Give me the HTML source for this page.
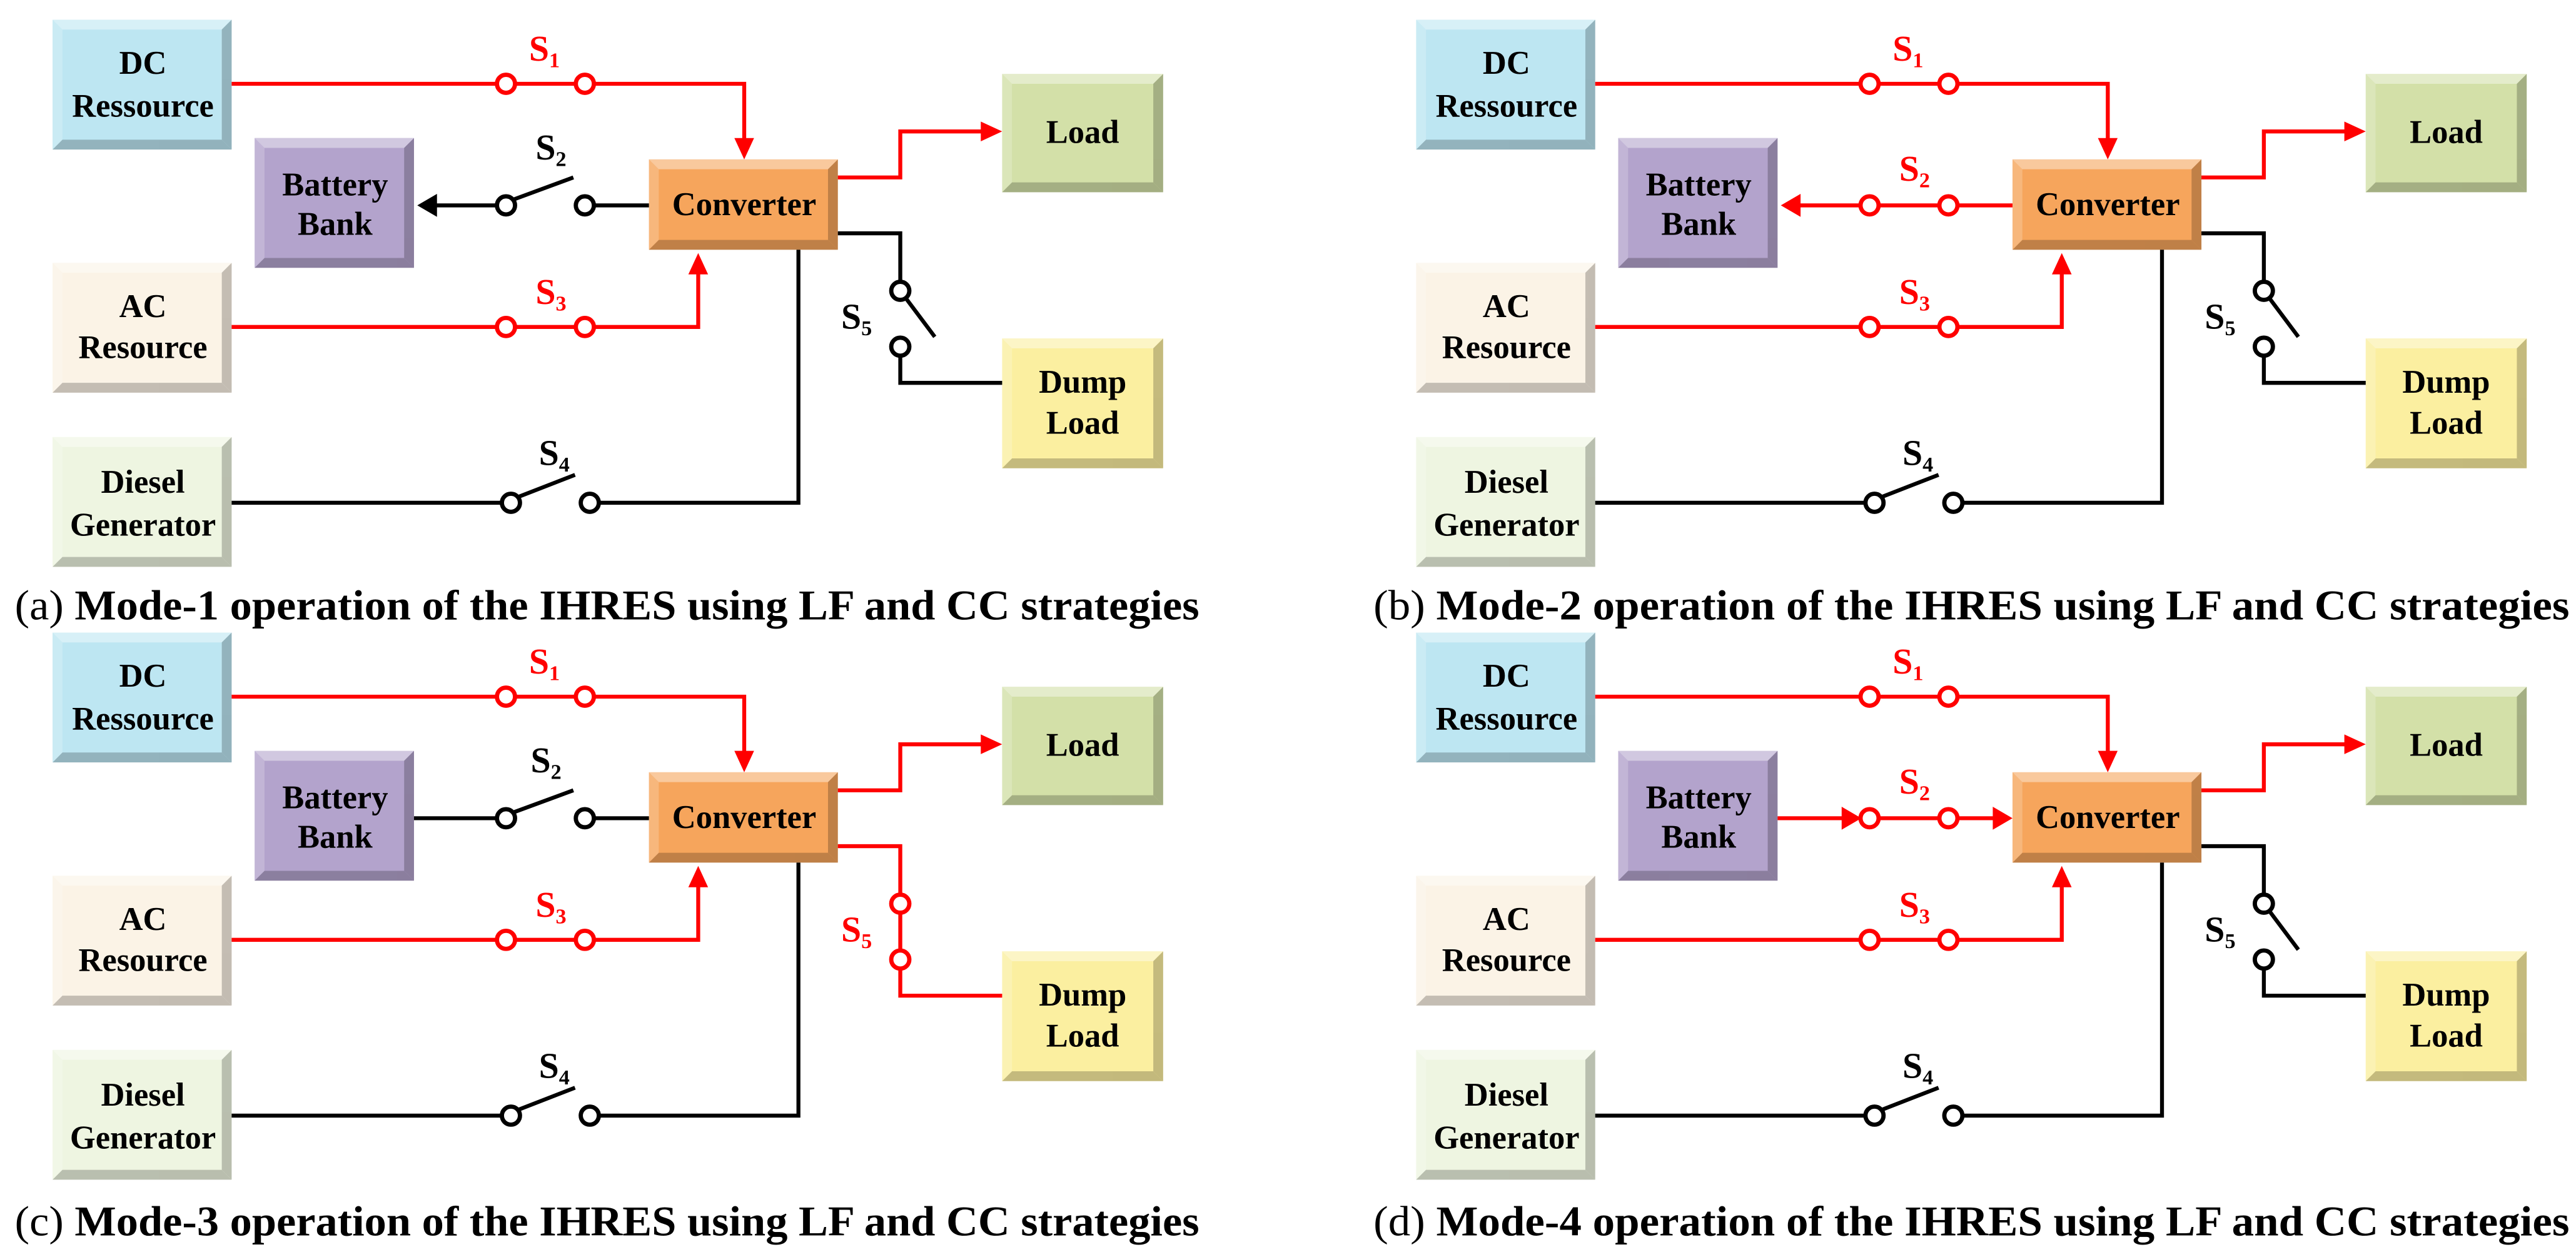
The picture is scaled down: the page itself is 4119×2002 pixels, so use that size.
<!DOCTYPE html>
<html><head><meta charset="utf-8"><style>html,body{margin:0;padding:0;background:#fff}svg{display:block}</style></head>
<body>
<svg width="4119" height="2002" viewBox="0 0 1568 762" preserveAspectRatio="none" xmlns="http://www.w3.org/2000/svg" font-family="'Liberation Serif',serif" font-weight="bold">
<defs>
<g id="boxes">
 <rect x="32" y="12" width="109" height="79" fill="#bde6f2"/>
 <rect x="155" y="84" width="97" height="79" fill="#b3a3cc"/>
 <rect x="32" y="160" width="109" height="79" fill="#fbf3e6"/>
 <rect x="32" y="266" width="109" height="79" fill="#eef5e1"/>
 <rect x="395" y="97" width="115" height="55" fill="#f6a55c"/>
 <rect x="610" y="45" width="98" height="72" fill="#d3e0a8"/>
 <rect x="610" y="206" width="98" height="79" fill="#fbefa0"/>
 <g fill="#fff" opacity="0.4">
  <polygon points="32,12 141,12 135,18 38,18"/><polygon points="155,84 252,84 246,90 161,90"/>
  <polygon points="32,160 141,160 135,166 38,166"/><polygon points="32,266 141,266 135,272 38,272"/>
  <polygon points="395,97 510,97 504,103 401,103"/><polygon points="610,45 708,45 702,51 616,51"/>
  <polygon points="610,206 708,206 702,212 616,212"/>
 </g>
 <g fill="#000" opacity="0.22">
  <polygon points="32,91 141,91 135,85 38,85"/><polygon points="155,163 252,163 246,157 161,157"/>
  <polygon points="32,239 141,239 135,233 38,233"/><polygon points="32,345 141,345 135,339 38,339"/>
  <polygon points="395,152 510,152 504,146 401,146"/><polygon points="610,117 708,117 702,111 616,111"/>
  <polygon points="610,285 708,285 702,279 616,279"/>
  <polygon points="141,12 141,91 135,85 135,18"/><polygon points="252,84 252,163 246,157 246,90"/>
  <polygon points="141,160 141,239 135,233 135,166"/><polygon points="141,266 141,345 135,339 135,272"/>
  <polygon points="510,97 510,152 504,146 504,103"/><polygon points="708,45 708,117 702,111 702,51"/>
  <polygon points="708,206 708,285 702,279 702,212"/>
 </g>
 <g fill="#fff" opacity="0.2">
  <polygon points="32,12 32,91 38,85 38,18"/><polygon points="155,84 155,163 161,157 161,90"/>
  <polygon points="32,160 32,239 38,233 38,166"/><polygon points="32,266 32,345 38,339 38,272"/>
  <polygon points="395,97 395,152 401,146 401,103"/><polygon points="610,45 610,117 616,111 616,51"/>
  <polygon points="610,206 610,285 616,279 616,212"/>
 </g>
</g>
<g id="common">
 <use href="#boxes"/>
 <g stroke="#f00" stroke-width="2.4" fill="none">
  <path d="M141 51 H303 M313 51 H351 M361 51 H453 V86"/>
  <path d="M141 199 H303 M313 199 H351 M361 199 H425 V166"/>
  <path d="M510 108 H548 V80 H598"/>
 </g>
 <g fill="#f00">
  <polygon points="447,84 459,84 453,97"/>
  <polygon points="419,167 431,167 425,154"/>
  <polygon points="597,74 610,80 597,86"/>
 </g>
 <g stroke="#f00" stroke-width="2.6" fill="#fff">
  <circle cx="308" cy="51" r="5.5"/><circle cx="356" cy="51" r="5.5"/>
  <circle cx="308" cy="199" r="5.5"/><circle cx="356" cy="199" r="5.5"/>
 </g>
 <g stroke="#000" stroke-width="2.4" fill="none">
  <path d="M141 306 H306 M314 303 L350 289 M364 306 H486 V152"/>
 </g>
 <g stroke="#000" stroke-width="2.6" fill="#fff">
  <circle cx="311" cy="306" r="5.5"/><circle cx="359" cy="306" r="5.5"/>
 </g>
 <g font-size="20" text-anchor="middle" fill="#000">
  <text x="87" y="45">DC</text><text x="87" y="71">Ressource</text>
  <text x="204" y="119">Battery</text><text x="204" y="143">Bank</text>
  <text x="87" y="193">AC</text><text x="87" y="218">Resource</text>
  <text x="87" y="300">Diesel</text><text x="87" y="326">Generator</text>
  <text x="453" y="131">Converter</text>
  <text x="659" y="87">Load</text>
  <text x="659" y="239">Dump</text><text x="659" y="264">Load</text>
 </g>
 <g font-size="22" fill="#f00">
  <text x="322" y="37">S<tspan font-size="13" dy="4">1</tspan></text>
  <text x="326" y="185">S<tspan font-size="13" dy="4">3</tspan></text>
 </g>
 <text x="328" y="283" font-size="22" fill="#000">S<tspan font-size="13" dy="4">4</tspan></text>
</g>
<g id="s5open">
 <g stroke="#000" stroke-width="2.4" fill="none"><path d="M510 142 H548 V172 M551 181 L569 205 M548 216 V233 H610"/></g>
 <g stroke="#000" stroke-width="2.6" fill="#fff"><circle cx="548" cy="177" r="5.5"/><circle cx="548" cy="211" r="5.5"/></g>
 <text x="512" y="200" font-size="22" fill="#000">S<tspan font-size="13" dy="4">5</tspan></text>
</g>
</defs>

<!-- Panel a -->
<g>
 <use href="#common"/><use href="#s5open"/>
 <g stroke="#000" stroke-width="2.4" fill="none"><path d="M395 125 H361 M311 122 L349 108 M303 125 H264"/></g>
 <polygon points="266,118 254,125 266,132" fill="#000"/>
 <g stroke="#000" stroke-width="2.6" fill="#fff"><circle cx="308" cy="125" r="5.5"/><circle cx="356" cy="125" r="5.5"/></g>
 <text x="326" y="97" font-size="22" fill="#000">S<tspan font-size="13" dy="4">2</tspan></text>
 <text x="9" y="377" font-size="26" textLength="721" lengthAdjust="spacingAndGlyphs"><tspan font-weight="normal">(a)</tspan> Mode-1 operation of the IHRES using LF and CC strategies</text>
</g>

<!-- Panel b -->
<g transform="translate(830,0)">
 <use href="#common"/><use href="#s5open"/>
 <g stroke="#f00" stroke-width="2.4" fill="none"><path d="M395 125 H361 M351 125 H313 M303 125 H264"/></g>
 <polygon points="266,118 254,125 266,132" fill="#f00"/>
 <g stroke="#f00" stroke-width="2.6" fill="#fff"><circle cx="308" cy="125" r="5.5"/><circle cx="356" cy="125" r="5.5"/></g>
 <text x="326" y="110" font-size="22" fill="#f00">S<tspan font-size="13" dy="4">2</tspan></text>
</g>
<text x="836" y="377" font-size="26" textLength="728" lengthAdjust="spacingAndGlyphs"><tspan font-weight="normal">(b)</tspan> Mode-2 operation of the IHRES using LF and CC strategies</text>

<!-- Panel c -->
<g transform="translate(0,373)">
 <use href="#common"/>
 <g stroke="#000" stroke-width="2.4" fill="none"><path d="M395 125 H361 M311 122 L349 108 M303 125 H252"/></g>
 <g stroke="#000" stroke-width="2.6" fill="#fff"><circle cx="308" cy="125" r="5.5"/><circle cx="356" cy="125" r="5.5"/></g>
 <text x="323" y="97" font-size="22" fill="#000">S<tspan font-size="13" dy="4">2</tspan></text>
 <g stroke="#f00" stroke-width="2.4" fill="none"><path d="M510 142 H548 V172 M548 182 V206 M548 216 V233 H610"/></g>
 <g stroke="#f00" stroke-width="2.6" fill="#fff"><circle cx="548" cy="177" r="5.5"/><circle cx="548" cy="211" r="5.5"/></g>
 <text x="512" y="200" font-size="22" fill="#f00">S<tspan font-size="13" dy="4">5</tspan></text>
 <text x="9" y="379" font-size="26" textLength="721" lengthAdjust="spacingAndGlyphs"><tspan font-weight="normal">(c)</tspan> Mode-3 operation of the IHRES using LF and CC strategies</text>
</g>

<!-- Panel d -->
<g transform="translate(830,373)">
 <use href="#common"/><use href="#s5open"/>
 <g stroke="#f00" stroke-width="2.4" fill="none"><path d="M252 125 H292 M313 125 H351 M361 125 H384"/></g>
 <polygon points="291,118 303,125 291,132" fill="#f00"/>
 <polygon points="383,118 395,125 383,132" fill="#f00"/>
 <g stroke="#f00" stroke-width="2.6" fill="#fff"><circle cx="308" cy="125" r="5.5"/><circle cx="356" cy="125" r="5.5"/></g>
 <text x="326" y="110" font-size="22" fill="#f00">S<tspan font-size="13" dy="4">2</tspan></text>
 <text x="6" y="379" font-size="26" textLength="728" lengthAdjust="spacingAndGlyphs"><tspan font-weight="normal">(d)</tspan> Mode-4 operation of the IHRES using LF and CC strategies</text>
</g>
</svg>
</body></html>
